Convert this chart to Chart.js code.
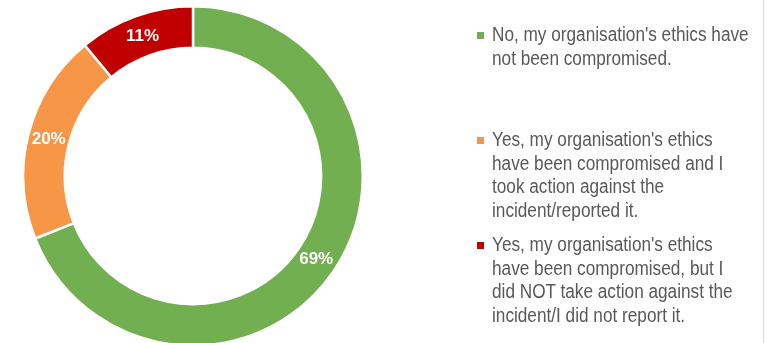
<!DOCTYPE html>
<html>
<head>
<meta charset="utf-8">
<script src="https://cdn.jsdelivr.net/npm/chart.js@4/dist/chart.umd.min.js"></script>
<style>
  html, body { margin:0; padding:0; background:#fff; width:772px; height:343px; overflow:hidden; position:relative; }
  #wrap { position:absolute; left:21.5px; top:5px; width:342px; height:342px; }
  #legend { position:absolute; left:0; top:0; width:772px; height:343px; pointer-events:none; }
  .item { position:absolute; left:477px; }
  .mk { position:absolute; left:0; width:7px; height:7px; }
  .txt { position:absolute; left:15px; font-family:"Liberation Sans", Arial, sans-serif; font-size:20px; line-height:23.7px; color:#595959; white-space:nowrap; transform:scaleX(0.86); transform-origin:0 0; }
  #vline { position:absolute; left:763px; top:0; width:1px; height:343px; background:#D9D9D9; }
</style>
</head>
<body>
<div id="wrap"><canvas id="c"></canvas></div>
<div id="legend"></div>
<div id="vline"></div>
<script>
const categories = [
  ["No, my organisation's ethics have", "not been compromised."],
  ["Yes, my organisation's ethics", "have been compromised and I", "took action against the", "incident/reported it."],
  ["Yes, my organisation's ethics", "have been compromised, but I", "did NOT take action against the", "incident/I did not report it."]
];
const values = [69, 20, 11];
const valueLabels = ["69%", "20%", "11%"];
const colors = ["#72AF50", "#F79646", "#C00000"];

const labelPlugin = {
  id: 'arcLabels',
  afterDatasetsDraw(chart) {
    const ctx = chart.ctx;
    const meta = chart.getDatasetMeta(0);
    ctx.save();
    ctx.font = 'bold 17px "Liberation Sans", Arial, sans-serif';
    ctx.fillStyle = '#ffffff';
    ctx.textAlign = 'center';
    ctx.textBaseline = 'middle';
    meta.data.forEach((arc, i) => {
      const p = arc.getCenterPoint();
      ctx.fillText(valueLabels[i], p.x, p.y);
    });
    ctx.restore();
  }
};

new Chart(document.getElementById('c'), {
  type: 'doughnut',
  data: {
    labels: categories.map(l => l.join(' ')),
    datasets: [{
      data: values,
      backgroundColor: colors,
      borderColor: '#ffffff',
      borderWidth: 2.5,
      hoverOffset: 0
    }]
  },
  options: {
    responsive: true,
    maintainAspectRatio: false,
    animation: false,
    cutout: '75.5%',
    layout: { padding: 0 },
    plugins: { legend: { display: false }, tooltip: { enabled: false } }
  },
  plugins: [labelPlugin]
});

// HTML legend built from the arrays
const legendTops = [22.9, 127.9, 232.9];
const legend = document.getElementById('legend');
categories.forEach((lines, i) => {
  const item = document.createElement('div');
  item.className = 'item';
  item.style.top = legendTops[i] + 'px';
  const mk = document.createElement('div');
  mk.className = 'mk';
  mk.style.background = colors[i];
  mk.style.top = '9.4px';
  const txt = document.createElement('div');
  txt.className = 'txt';
  txt.innerHTML = lines.map(s => s.replace(/&/g,'&amp;').replace(/</g,'&lt;')).join('<br>');
  item.appendChild(mk);
  item.appendChild(txt);
  legend.appendChild(item);
});
</script>
</body>
</html>
